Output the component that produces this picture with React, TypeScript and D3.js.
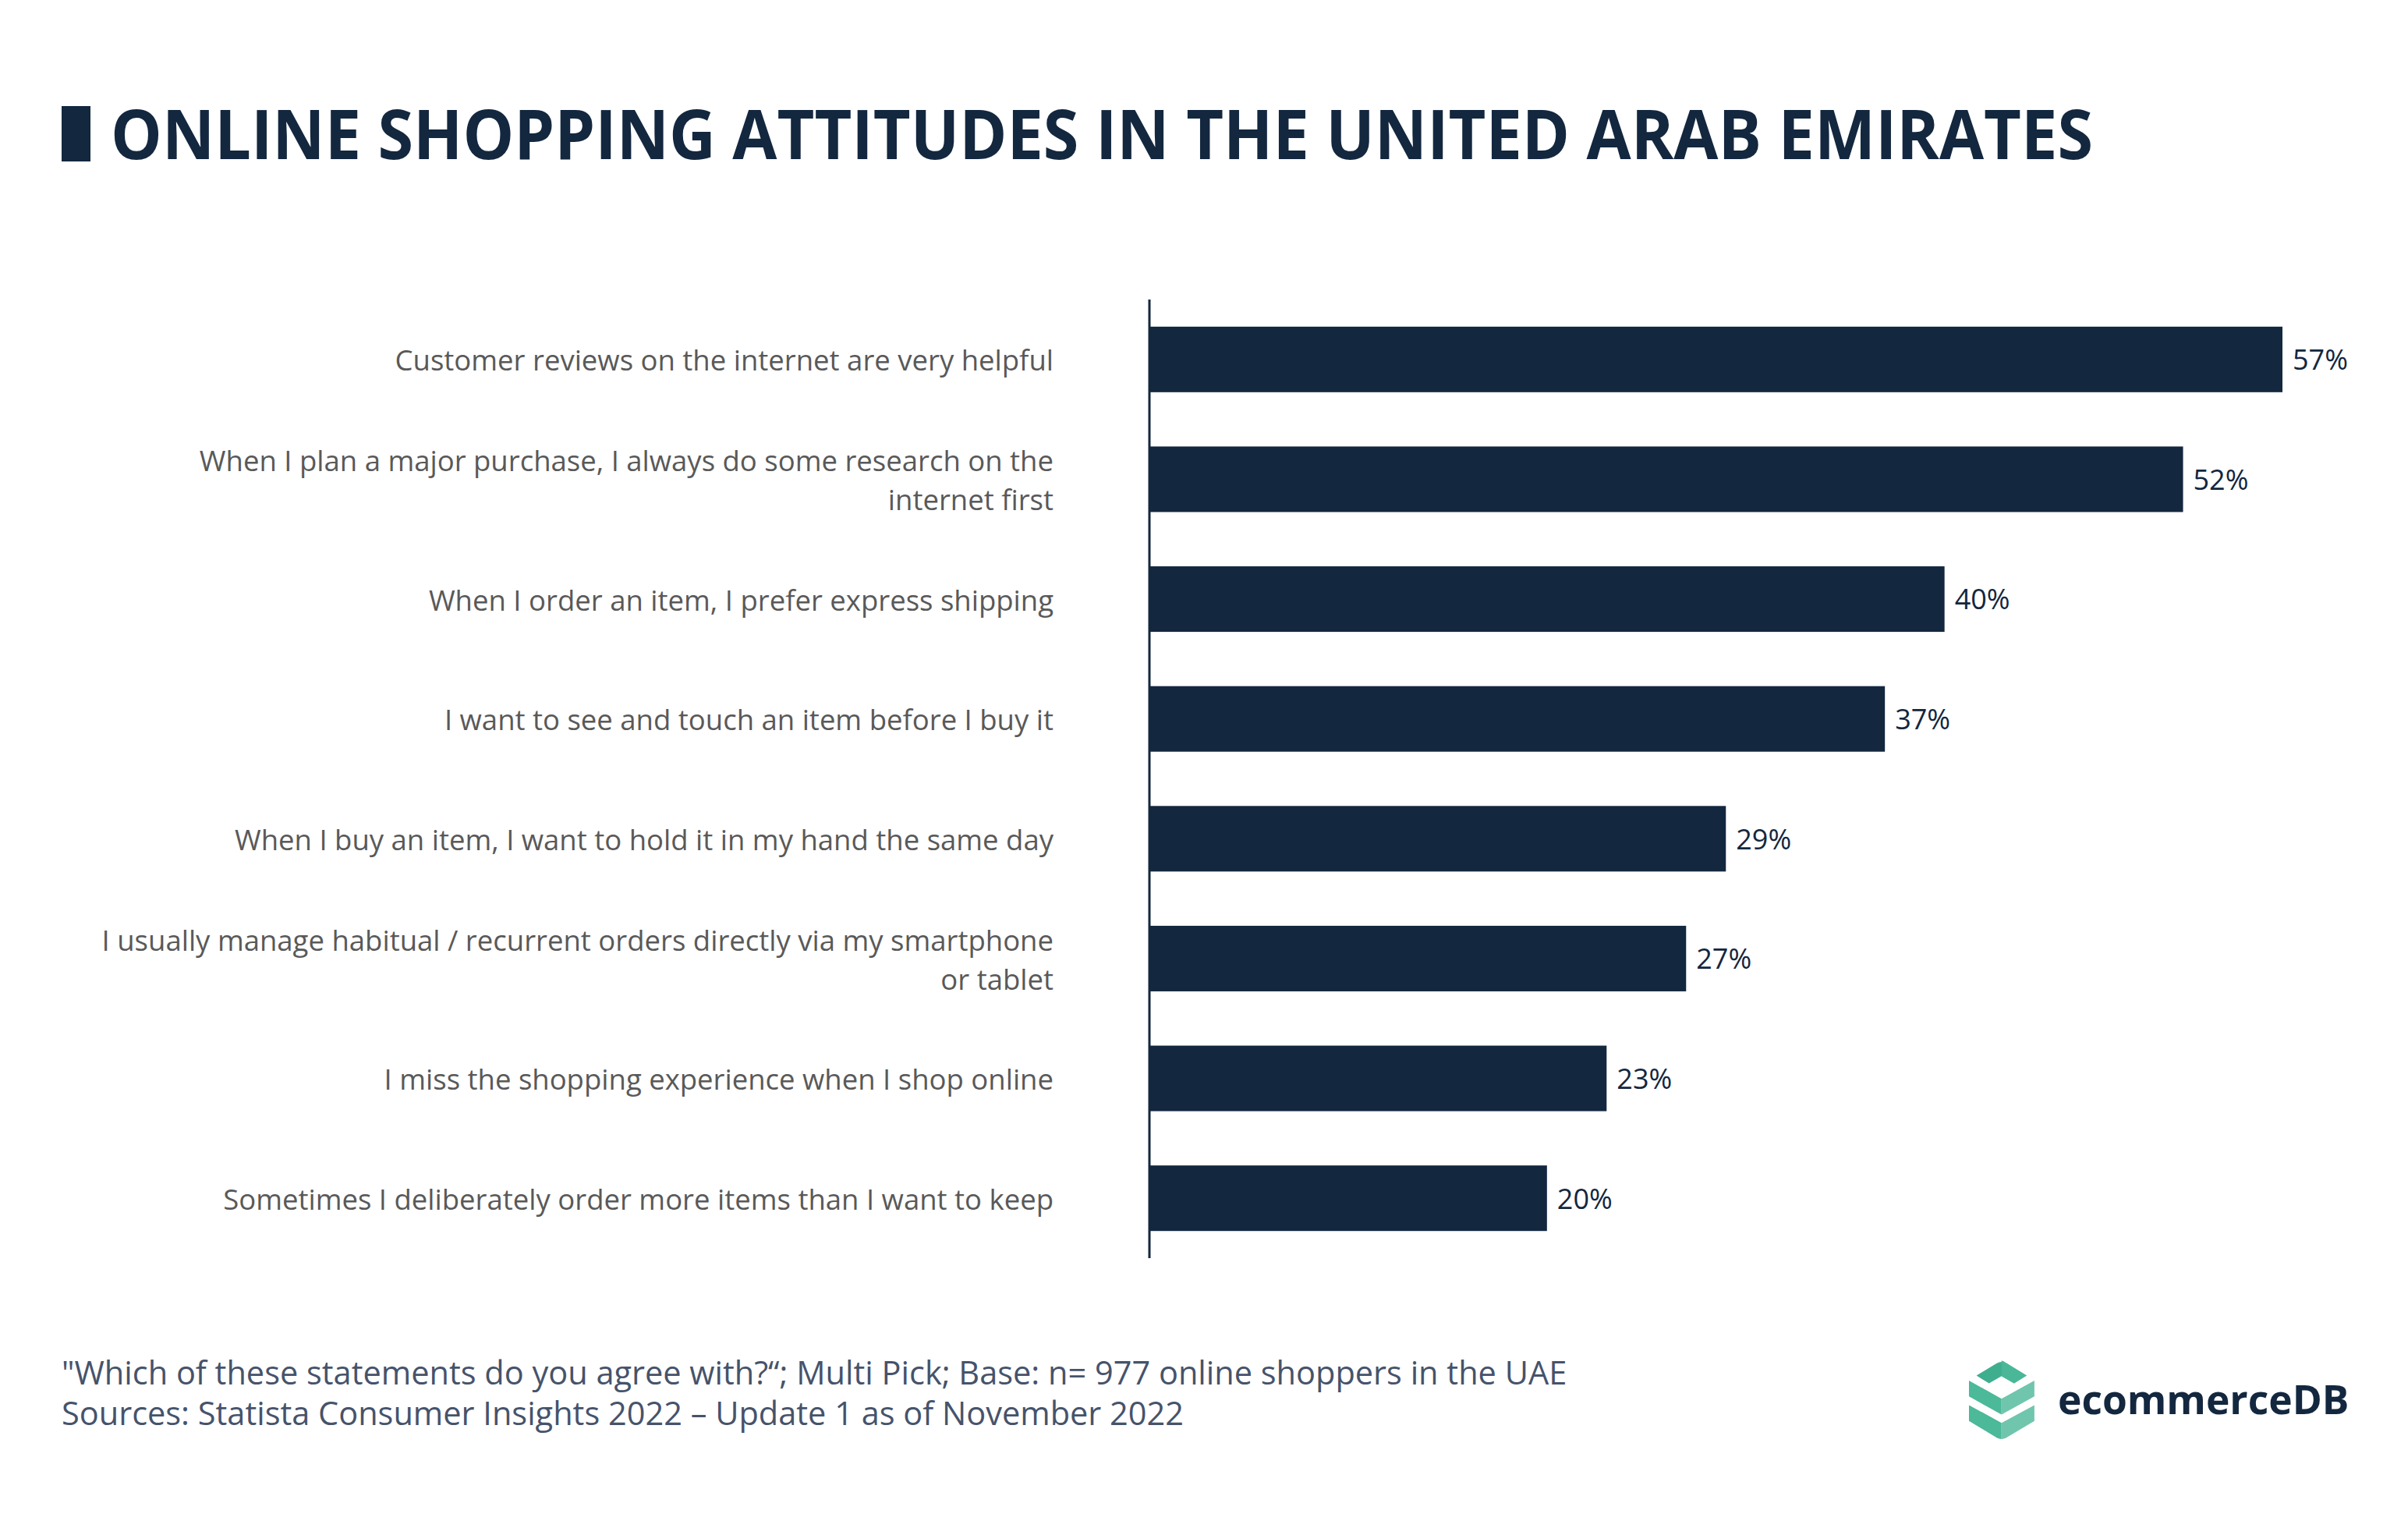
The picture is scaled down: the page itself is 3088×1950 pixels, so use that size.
import React from "react";
import * as d3 from "d3";

const categories: string[][] = [
  ["Customer reviews on the internet are very helpful"],
  ["When I plan a major purchase, I always do some research on the", "internet first"],
  ["When I order an item, I prefer express shipping"],
  ["I want to see and touch an item before I buy it"],
  ["When I buy an item, I want to hold it in my hand the same day"],
  ["I usually manage habitual / recurrent orders directly via my smartphone", "or tablet"],
  ["I miss the shopping experience when I shop online"],
  ["Sometimes I deliberately order more items than I want to keep"],
];
const values: number[] = [57, 52, 40, 37, 29, 27, 23, 20];
const title = "ONLINE SHOPPING ATTITUDES IN THE UNITED ARAB EMIRATES";
const footnotes: string[] = [
  "\"Which of these statements do you agree with?\u201C; Multi Pick; Base: n= 977 online shoppers in the UAE",
  "Sources: Statista Consumer Insights 2022 \u2013 Update 1 as of November 2022",
];

const W = 3088;
const H = 1950;
const NAVY = "#13273f";
const FONT = "'Open Sans', 'Noto Sans', sans-serif";

export default function App() {
  const ids = categories.map((_, i) => String(i));
  const y = d3.scaleBand<string>().domain(ids).range([384, 1613]).paddingInner(0.453).paddingOuter(0.2265);
  const x = d3.scaleLinear().domain([0, 57]).range([1474, 2927]);
  const fmt = (v: number) => `${v}%`;

  return (
    <svg width={W} height={H} style={{ position: "absolute", left: 0, top: 0, background: "#fff" }} fontFamily={FONT}>
      {/* title */}
      <rect x={79} y={136} width={37} height={71} fill={NAVY} />
      <text x={142} y={204} fontSize={88} fontWeight={700} fill={NAVY} textLength={2542} lengthAdjust="spacingAndGlyphs">
        {title}
      </text>

      {/* bars */}
      {values.map((v, i) => (
        <g key={i}>
          <rect x={x(0)} y={y(String(i))!} width={x(v) - x(0)} height={y.bandwidth()} fill={NAVY} />
          <text x={x(v) + 13} y={y(String(i))! + y.bandwidth() / 2} dy="0.37em" fontSize={36} fill={NAVY}>
            {fmt(v)}
          </text>
        </g>
      ))}

      {/* category labels */}
      {categories.map((lines, i) => {
        const cy = y(String(i))! + y.bandwidth() / 2;
        const lh = 50;
        const start = cy - ((lines.length - 1) * lh) / 2;
        return (
          <text key={i} x={1351} textAnchor="end" fontSize={36.5} fill="#595959">
            {lines.map((l, j) => (
              <tspan key={j} x={1351} y={start + j * lh} dy="0.4em">
                {l}
              </tspan>
            ))}
          </text>
        );
      })}

      {/* axis line */}
      <line x1={x(0)} x2={x(0)} y1={384} y2={1613} stroke={NAVY} strokeWidth={3} />

      {/* footnotes */}
      {footnotes.map((f, i) => (
        <text key={i} x={79} y={1760 + i * 52} dy="0.37em" fontSize={41.5} fill="#46536b">
          {f}
        </text>
      ))}

      {/* logo */}
      <g transform="translate(2500,1720) scale(0.357)">
        <path d="M97,122 L170,78 Q187,68 205,78 L277,122 L232,150 L187,124 L142,150 Z" fill="#3fae8e" />
        <path d="M187,68 Q196,70 205,78 L277,122 L232,150 L187,124 Z" fill="#4ab898" />
        <path d="M70,140 L187,205 L187,262 L70,197 Z" fill="#4cb999" />
        <path d="M305,140 L187,205 L187,262 L305,197 Z" fill="#70c5ad" />
        <path d="M70,228 L187,292 L187,350 Q180,350 170,345 L70,285 Z" fill="#4cb999" />
        <path d="M305,228 L187,292 L187,350 Q194,350 204,345 L305,285 Z" fill="#70c5ad" />
      </g>
      <text x={2639} y={1813} fontSize={51.5} fontWeight={700} fill={NAVY}>
        ecommerceDB
      </text>
    </svg>
  );
}
